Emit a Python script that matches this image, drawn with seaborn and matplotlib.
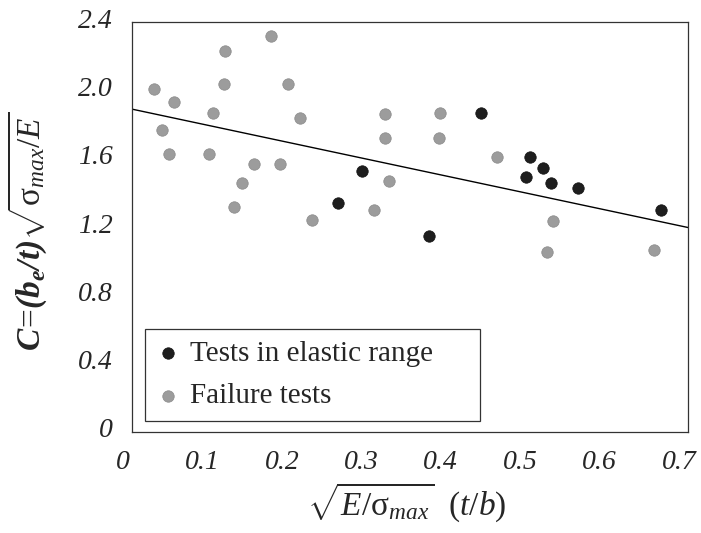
import numpy as np
import pandas as pd
import matplotlib
matplotlib.use("Agg")
import matplotlib.pyplot as plt
import seaborn as sns
from matplotlib.transforms import ScaledTranslation

# ---- data ----
elastic_x = [0.259, 0.289, 0.374, 0.439, 0.496, 0.501, 0.517, 0.528, 0.562, 0.666]
elastic_y = [1.34, 1.53, 1.15, 1.87, 1.49, 1.61, 1.546, 1.46, 1.43, 1.30]

failure_x = [0.175, 0.117, 0.116, 0.028, 0.197, 0.053, 0.102, 0.212, 0.318, 0.319,
             0.038, 0.047, 0.097, 0.153, 0.186, 0.324, 0.138, 0.129, 0.305, 0.226,
             0.388, 0.387, 0.460, 0.530, 0.523, 0.657]
failure_y = [2.32, 2.23, 2.04, 2.01, 2.04, 1.93, 1.87, 1.84, 1.86, 1.72,
             1.77, 1.63, 1.63, 1.57, 1.57, 1.47, 1.46, 1.32, 1.30, 1.24,
             1.87, 1.72, 1.61, 1.235, 1.054, 1.066]

trend_intercept = 1.89
trend_slope = -0.99

x_range = [0.0, 0.7]
y_range = [0.0, 2.4]
x_ticks = [0.0, 0.1, 0.2, 0.3, 0.4, 0.5, 0.6, 0.7]
x_tick_labels = ["0", "0.1", "0.2", "0.3", "0.4", "0.5", "0.6", "0.7"]
y_ticks = [0.0, 0.4, 0.8, 1.2, 1.6, 2.0, 2.4]
y_tick_labels = ["0", "0.4", "0.8", "1.2", "1.6", "2.0", "2.4"]

series_names = ["Tests in elastic range", "Failure tests"]

# ---- style ----
sns.set_theme(style="white")
plt.rcParams["font.family"] = ["Liberation Serif", "DejaVu Serif"]
plt.rcParams["mathtext.fontset"] = "custom"
plt.rcParams["mathtext.rm"] = "Liberation Serif"
plt.rcParams["mathtext.it"] = "Liberation Serif:italic"
plt.rcParams["mathtext.bf"] = "Liberation Serif:italic:bold"

fig = plt.figure(figsize=(7.01, 5.33), dpi=100)
ax = fig.add_axes([0.1883, 0.1895, 0.7932, 0.7692])

df_el = pd.DataFrame({"x": elastic_x, "y": elastic_y})
df_fa = pd.DataFrame({"x": failure_x, "y": failure_y})

# trend line
tx = np.array(x_range)
df_tr = pd.DataFrame({"x": tx, "y": trend_intercept + trend_slope * tx})
sns.lineplot(data=df_tr, x="x", y="y", color="black", linewidth=1.0, ax=ax,
             legend=False, zorder=2)

sns.scatterplot(data=df_fa, x="x", y="y", color="#9c9c9c", edgecolor="#8a8a8a",
                linewidth=0.5, s=68, ax=ax, label=series_names[1], zorder=3)
sns.scatterplot(data=df_el, x="x", y="y", color="#1e1e1e", edgecolor="#111111",
                linewidth=0.5, s=68, ax=ax, label=series_names[0], zorder=4)

ax.set_xlim(*x_range)
ax.set_ylim(*y_range)
ax.set_xticks(x_ticks)
ax.set_xticklabels(x_tick_labels)
ax.set_yticks(y_ticks)
ax.set_yticklabels(y_tick_labels)
ax.tick_params(axis="both", length=0, labelsize=20)
ax.tick_params(axis="x", pad=13)
ax.tick_params(axis="y", pad=14)
for lab in ax.get_xticklabels() + ax.get_yticklabels():
    lab.set_fontstyle("italic")
for lab in ax.get_xticklabels():
    lab.set_transform(lab.get_transform() + ScaledTranslation(-9 / 100, 0, fig.dpi_scale_trans))
for lab in ax.get_yticklabels():
    lab.set_transform(lab.get_transform() + ScaledTranslation(0, 4 / 100, fig.dpi_scale_trans))

for sp in ax.spines.values():
    sp.set_visible(True)
    sp.set_color("#333333")
    sp.set_linewidth(0.9)

ax.set_xlabel(r"$\sqrt{E/\mathrm{\sigma}_{max}}\ \ (t/b)$", fontsize=24)
ax.set_ylabel(r"$\mathbf{C}\!=\!\mathbf{(b_{e}/t)}\sqrt{\mathrm{\sigma}_{max}/E}$", fontsize=24)
ax.xaxis.set_label_coords(0.495, -0.118)
ax.yaxis.set_label_coords(-0.15, 0.488)

# legend (elastic first)
handles, labels = ax.get_legend_handles_labels()
order = [labels.index(n) for n in series_names]
leg = ax.legend([handles[i] for i in order], [labels[i] for i in order],
                loc="lower left", bbox_to_anchor=(0.0234, 0.0268, 0.6025, 0.25),
                mode="expand", borderaxespad=0, frameon=True, fancybox=False,
                edgecolor="#333333", framealpha=1, fontsize=21, handlelength=0.8,
                handletextpad=0.35, labelspacing=0.55, borderpad=0.4)
leg.get_frame().set_linewidth(0.9)

fig.savefig("out.png", dpi=100)
